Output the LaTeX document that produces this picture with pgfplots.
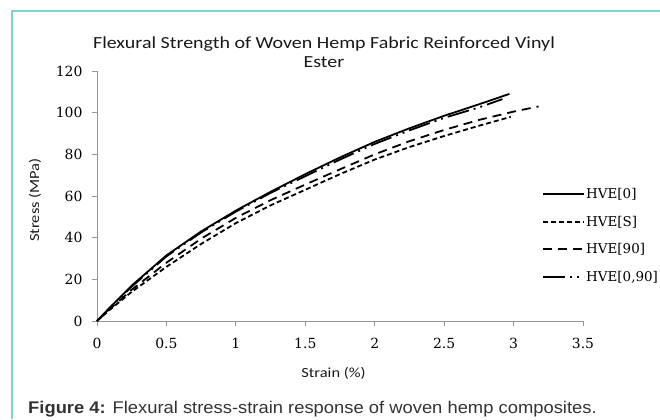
\documentclass[border=0pt]{standalone}
\usepackage{fontspec}
\setmainfont{DejaVu Serif}
\newfontfamily\carlito[FakeStretch=1.18]{Carlito}
\newfontfamily\arialf[FakeStretch=1.085]{Liberation Sans}
\usepackage{pgfplots}
\pgfplotsset{compat=1.18}
\definecolor{frameteal}{RGB}{128,214,200}
\definecolor{axgray}{RGB}{150,150,150}
\begin{document}
\begin{tikzpicture}[x=1bp,y=1bp]
\useasboundingbox (0,0) rectangle (660,419);
\draw[frameteal, line width=2bp] (12,0) -- (12,408) -- (660,408);
\begin{axis}[
  at={(97bp,98bp)}, anchor=south west,
  scale only axis, width=486bp, height=250bp,
  xmin=0, xmax=3.5, ymin=0, ymax=120,
  axis x line=bottom, axis y line=left,
  axis line style={draw=axgray, line width=0.8bp, -},
  xtick={0,0.5,1,1.5,2,2.5,3,3.5}, ytick={0,20,40,60,80,100,120},
  xticklabels={0,0.5,1,1.5,2,2.5,3,3.5},
  tick align=outside, major tick length=5bp,
  tick style={draw=axgray, line width=0.8bp},
  ticklabel style={font=\fontsize{14}{16}\selectfont},
  xticklabel style={yshift=-9bp},
  yticklabel style={xshift=-6bp},
  /pgf/number format/assume math mode=true,
  clip=false,
  legend style={draw=none, fill=none, at={(0.9156,0.342)}, anchor=west,
    inner sep=0pt, row sep=14bp,
    nodes={inner sep=1bp, font=\fontsize{13.5}{15.5}\selectfont}},
  legend cell align=left,
  legend image code/.code={\draw[#1, line width=2bp] (0bp,0bp) -- (41bp,0bp);},
  /tikz/every even column/.append style={column sep=1.5bp},
]
\addplot[black, line width=1.8bp] coordinates {
(0,0) (0.1,7) (0.25,17) (0.5,31.5) (0.75,43) (1,53) (1.25,62) (1.5,70.5) (1.75,78.5) (2,86) (2.25,92.5) (2.5,98.5) (2.75,104) (2.97,109)};
\addlegendentry{HVE[0]}
\addplot[black, line width=1.8bp, dash pattern=on 5bp off 3bp] coordinates {
(0,0) (0.1,5.8) (0.25,14) (0.5,26) (0.75,37) (1,47) (1.25,55.5) (1.5,63) (1.75,70.5) (2,77.5) (2.25,83.5) (2.5,88.8) (2.75,93.7) (2.98,98)};
\addlegendentry{HVE[S]}
\addplot[black, line width=1.8bp, dash pattern=on 9bp off 6bp] coordinates {
(0,0) (0.1,6.2) (0.25,15) (0.5,28) (0.75,39.5) (1,49.5) (1.25,58) (1.5,65.5) (1.75,72.8) (2,80) (2.25,86.3) (2.5,91.7) (2.75,96.5) (3,100.5) (3.18,103)};
\addlegendentry{HVE[90]}
\addplot[black, line width=1.8bp, dash pattern=on 22bp off 5bp on 2bp off 5bp on 2bp off 5bp] coordinates {
(0,0) (0.1,6.8) (0.25,16.5) (0.5,31) (0.75,42.5) (1,52.5) (1.25,61.5) (1.5,69.5) (1.75,77.5) (2,85) (2.25,91.5) (2.5,97.5) (2.75,102.5) (2.92,106.5)};
\addlegendentry{HVE[0,90]}
\end{axis}
\node[font=\carlito\fontsize{17}{19}\selectfont, align=center, text=black!90] at (324,366.5) {Flexural Strength of Woven Hemp Fabric Reinforced Vinyl\\Ester};
\node[font=\carlito\fontsize{14}{16}\selectfont, text=black!90] at (333.5,46) {Strain (\%)};
\node[font=\carlito\fontsize{14}{16}\selectfont, text=black!90, rotate=90] at (35,219) {Stress (MPa)};
\node[anchor=base west, font=\arialf\fontsize{17}{19}\selectfont, text=black!80, inner sep=0pt] at (28,6) {\textbf{Figure 4:} Flexural stress-strain response of woven hemp composites.};
\end{tikzpicture}
\end{document}
